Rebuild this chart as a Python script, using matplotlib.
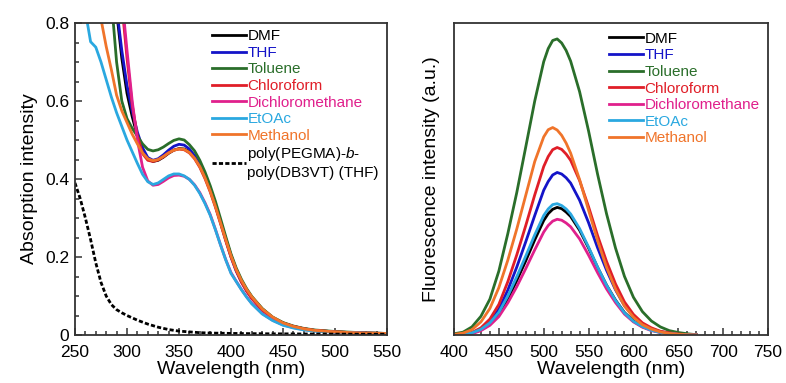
import numpy as np
import matplotlib
matplotlib.use("Agg")
import matplotlib.pyplot as plt
from matplotlib.ticker import MultipleLocator, FuncFormatter

plt.rcParams['font.family'] = ['Liberation Sans', 'DejaVu Sans']
plt.rcParams['mathtext.fontset'] = 'custom'
plt.rcParams['mathtext.it'] = 'Liberation Sans:italic'
plt.rcParams['mathtext.rm'] = 'Liberation Sans'

# ---- absorption data ----
wl_abs = [250, 255, 260, 265, 270, 275, 280, 285, 290, 295, 300, 305, 310, 315, 320,
          325, 330, 335, 340, 345, 350, 355, 360, 365, 370, 375, 380, 385, 390, 395,
          400, 405, 410, 415, 420, 430, 440, 450, 460, 470, 480, 500, 525, 550]

abs_dmf = [2.0, 1.9, 1.75, 1.6, 1.45, 1.3, 1.15, 0.97, 0.83, 0.71, 0.62, 0.56, 0.51, 0.474, 0.452,
           0.445, 0.448, 0.456, 0.466, 0.474, 0.478, 0.477, 0.47, 0.455, 0.434, 0.406, 0.372, 0.333, 0.29, 0.246,
           0.204, 0.168, 0.139, 0.116, 0.097, 0.067, 0.045, 0.031, 0.022, 0.016, 0.012, 0.008, 0.005, 0.004]
abs_thf = [2.0, 1.9, 1.75, 1.6, 1.45, 1.3, 1.15, 0.96, 0.84, 0.73, 0.64, 0.575, 0.52, 0.48, 0.455,
           0.448, 0.452, 0.462, 0.474, 0.484, 0.489, 0.487, 0.477, 0.46, 0.437, 0.407, 0.372, 0.332, 0.288, 0.243,
           0.2, 0.164, 0.136, 0.113, 0.094, 0.064, 0.044, 0.03, 0.022, 0.016, 0.012, 0.008, 0.005, 0.004]
abs_tol = [1.6, 1.5, 1.4, 1.3, 1.2, 1.1, 1.0, 0.86, 0.7, 0.6, 0.555, 0.53, 0.51, 0.49, 0.476,
           0.472, 0.475, 0.482, 0.491, 0.499, 0.503, 0.5, 0.488, 0.472, 0.448, 0.418, 0.383, 0.343, 0.298, 0.252,
           0.208, 0.172, 0.143, 0.119, 0.099, 0.068, 0.046, 0.032, 0.023, 0.017, 0.013, 0.009, 0.006, 0.004]
abs_chl = [2.0, 1.9, 1.8, 1.7, 1.55, 1.4, 1.25, 1.12, 1.0, 0.85, 0.71, 0.59, 0.51, 0.465, 0.448,
           0.445, 0.449, 0.457, 0.467, 0.474, 0.477, 0.475, 0.467, 0.452, 0.43, 0.401, 0.367, 0.328, 0.285, 0.241,
           0.2, 0.165, 0.136, 0.113, 0.094, 0.064, 0.044, 0.03, 0.022, 0.016, 0.012, 0.008, 0.005, 0.004]
abs_dcm = [2.0, 1.9, 1.8, 1.7, 1.55, 1.4, 1.27, 1.15, 1.05, 0.87, 0.73, 0.6, 0.5, 0.43, 0.395,
           0.384, 0.386, 0.394, 0.403, 0.409, 0.41, 0.407, 0.399, 0.385, 0.365, 0.339, 0.309, 0.271, 0.231, 0.193,
           0.16, 0.138, 0.117, 0.098, 0.081, 0.055, 0.038, 0.026, 0.019, 0.014, 0.011, 0.007, 0.005, 0.003]
abs_eto = [1.1, 0.95, 0.83, 0.752, 0.738, 0.7, 0.655, 0.61, 0.57, 0.535, 0.5, 0.47, 0.44, 0.412, 0.393,
           0.386, 0.39, 0.399, 0.408, 0.413, 0.413, 0.408, 0.399, 0.384, 0.363, 0.337, 0.307, 0.27, 0.23, 0.192,
           0.158, 0.137, 0.116, 0.097, 0.08, 0.054, 0.037, 0.025, 0.018, 0.013, 0.01, 0.007, 0.005, 0.003]
abs_met = [1.4, 1.25, 1.1, 0.98, 0.88, 0.81, 0.74, 0.68, 0.615, 0.575, 0.545, 0.515, 0.49, 0.467, 0.452,
           0.447, 0.45, 0.458, 0.467, 0.474, 0.477, 0.476, 0.468, 0.453, 0.432, 0.403, 0.369, 0.33, 0.287, 0.244,
           0.203, 0.168, 0.14, 0.117, 0.098, 0.067, 0.046, 0.031, 0.022, 0.016, 0.012, 0.008, 0.005, 0.004]
abs_poly = [0.39, 0.35, 0.3, 0.245, 0.185, 0.135, 0.1, 0.078, 0.065, 0.057, 0.05, 0.044, 0.038, 0.033, 0.028,
            0.024, 0.02, 0.017, 0.014, 0.012, 0.01, 0.009, 0.008, 0.007, 0.006, 0.0055, 0.005, 0.0048, 0.0046, 0.0044,
            0.004, 0.004, 0.0038, 0.0036, 0.0035, 0.0033, 0.003, 0.003, 0.0028, 0.0026, 0.0025, 0.0023, 0.002, 0.002]

# ---- fluorescence data (a.u.) ----
wl_fl = [400, 410, 420, 430, 440, 450, 460, 470, 480, 490, 500, 505, 510, 515, 520, 525, 530,
         540, 550, 560, 570, 580, 590, 600, 610, 620, 630, 640, 650, 660, 670]

fl_dmf = [0.001, 0.002, 0.006, 0.016, 0.035, 0.067, 0.116, 0.175, 0.238, 0.305, 0.367, 0.389, 0.403, 0.409, 0.405, 0.394, 0.38,
          0.336, 0.279, 0.217, 0.16, 0.112, 0.072, 0.045, 0.027, 0.016, 0.009, 0.0045, 0.002, 0.001, 0.0004]
fl_thf = [0.001, 0.003, 0.006, 0.019, 0.043, 0.083, 0.144, 0.218, 0.299, 0.383, 0.464, 0.492, 0.513, 0.521, 0.516, 0.504, 0.487,
          0.432, 0.36, 0.28, 0.208, 0.145, 0.094, 0.059, 0.035, 0.02, 0.011, 0.006, 0.003, 0.0014, 0.0005]
fl_tol = [0.004, 0.009, 0.026, 0.06, 0.115, 0.205, 0.325, 0.457, 0.603, 0.75, 0.876, 0.918, 0.944, 0.949, 0.936, 0.912, 0.878,
          0.78, 0.654, 0.516, 0.389, 0.279, 0.188, 0.121, 0.075, 0.045, 0.026, 0.014, 0.008, 0.004, 0.001]
fl_chl = [0.001, 0.003, 0.008, 0.023, 0.051, 0.098, 0.171, 0.257, 0.351, 0.449, 0.54, 0.572, 0.594, 0.601, 0.595, 0.58, 0.56,
          0.495, 0.411, 0.319, 0.236, 0.164, 0.106, 0.066, 0.039, 0.023, 0.012, 0.007, 0.003, 0.0015, 0.0005]
fl_dcm = [0.001, 0.002, 0.004, 0.014, 0.031, 0.059, 0.103, 0.155, 0.213, 0.273, 0.33, 0.351, 0.365, 0.371, 0.368, 0.359, 0.347,
          0.308, 0.256, 0.2, 0.148, 0.104, 0.067, 0.042, 0.025, 0.014, 0.008, 0.004, 0.002, 0.001, 0.0004]
fl_eto = [0.001, 0.0025, 0.007, 0.018, 0.039, 0.073, 0.125, 0.187, 0.253, 0.321, 0.383, 0.404, 0.418, 0.421, 0.415, 0.404, 0.388,
          0.341, 0.282, 0.218, 0.16, 0.111, 0.071, 0.044, 0.027, 0.015, 0.008, 0.0045, 0.002, 0.001, 0.0004]
fl_met = [0.002, 0.006, 0.017, 0.042, 0.085, 0.152, 0.24, 0.34, 0.448, 0.556, 0.635, 0.658, 0.665, 0.657, 0.64, 0.615, 0.583,
          0.498, 0.4, 0.303, 0.217, 0.147, 0.093, 0.057, 0.033, 0.019, 0.01, 0.005, 0.0024, 0.001, 0.0003]

solvents = ['DMF', 'THF', 'Toluene', 'Chloroform', 'Dichloromethane', 'EtOAc', 'Methanol']
colors = ['#000000', '#1414c8', '#2a6e2a', '#e01e28', '#e0208c', '#2aa8e0', '#f0742a']
poly_label = 'poly(PEGMA)-$\\it{b}$-\npoly(DB3VT) (THF)'

abs_series = [abs_dmf, abs_thf, abs_tol, abs_chl, abs_dcm, abs_eto, abs_met]
fl_series = [fl_dmf, fl_thf, fl_tol, fl_chl, fl_dcm, fl_eto, fl_met]


def style_axes(ax):
    for s in ax.spines.values():
        s.set_linewidth(1.3)
        s.set_color('#333333')
    ax.tick_params(which='both', direction='in', top=False, right=False,
                   labelsize=12.5, width=1.1, color='#333333')
    ax.tick_params(axis='x', which='both', pad=7)
    ax.tick_params(axis='y', which='both', pad=4)
    ax.tick_params(which='major', length=5)
    ax.tick_params(which='minor', length=3)


fig = plt.figure(figsize=(7.86, 3.83), dpi=100)
ax1 = fig.add_axes([0.0954, 0.1253, 0.397, 0.8146])
ax2 = fig.add_axes([0.5776, 0.1253, 0.3995, 0.8146])

# left: absorption
for name, c, y in zip(solvents, colors, abs_series):
    ax1.plot(wl_abs, y, color=c, lw=2, label=name, solid_joinstyle='round')
ax1.plot(wl_abs, abs_poly, color='black', lw=2, ls=(0, (1.5, 0.8)), label=poly_label)
ax1.set_xlim(250, 550)
ax1.set_ylim(0, 0.8)
ax1.xaxis.set_major_locator(MultipleLocator(50))
ax1.xaxis.set_minor_locator(MultipleLocator(10))
ax1.yaxis.set_major_locator(MultipleLocator(0.2))
ax1.yaxis.set_minor_locator(MultipleLocator(0.05))
ax1.yaxis.set_major_formatter(FuncFormatter(lambda v, p: '0' if abs(v) < 1e-9 else f'{v:.1f}'))
style_axes(ax1)
ax1.set_xlabel('Wavelength (nm)', fontsize=14, labelpad=1)
ax1.set_ylabel('Absorption intensity', fontsize=14, labelpad=5)
leg1 = ax1.legend(loc='upper left', bbox_to_anchor=(0.44, 0.98), frameon=False, fontsize=11,
                  handlelength=2.2, handletextpad=0.1, labelspacing=0.17, borderpad=0, borderaxespad=0)
for t, c in zip(leg1.get_texts(), colors + ['black']):
    t.set_color(c)

# right: fluorescence
for name, c, y in zip(solvents, colors, fl_series):
    ax2.plot(wl_fl, y, color=c, lw=2, label=name, solid_joinstyle='round')
ax2.set_xlim(400, 750)
ax2.set_ylim(0, 1.0)
ax2.xaxis.set_major_locator(MultipleLocator(50))
ax2.xaxis.set_minor_locator(MultipleLocator(10))
ax2.set_yticks([])
style_axes(ax2)
ax2.set_xlabel('Wavelength (nm)', fontsize=14, labelpad=1)
ax2.set_ylabel('Fluorescence intensity (a.u.)', fontsize=14, labelpad=10)
leg2 = ax2.legend(loc='upper left', bbox_to_anchor=(0.495, 0.972), frameon=False, fontsize=11,
                  handlelength=2.2, handletextpad=0.1, labelspacing=0.17, borderpad=0, borderaxespad=0)
for t, c in zip(leg2.get_texts(), colors):
    t.set_color(c)

fig.savefig('out.png', dpi=100)
